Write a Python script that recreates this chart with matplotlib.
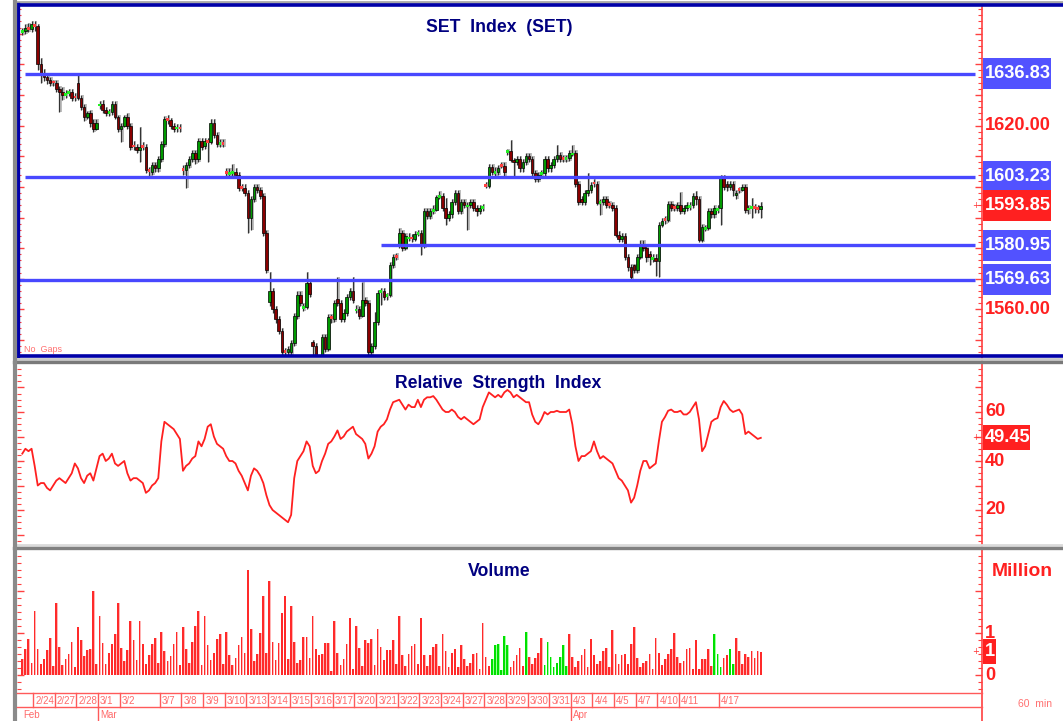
import numpy as np
import matplotlib
matplotlib.use('Agg')
import matplotlib.pyplot as plt
from matplotlib import font_manager
from matplotlib.lines import Line2D
from matplotlib.patches import Rectangle
from matplotlib.transforms import blended_transform_factory
from matplotlib.ticker import MultipleLocator

# ---------------- data (hourly bars) ----------------
opens = [
 1650.5, 1651, 1652, 1651.5, 1653, 1652.5, 1640, 1637, 1636, 1635,
 1634.4, 1634, 1632, 1631, 1630, 1630.5, 1631, 1629.6, 1634, 1629,
 1626, 1622.8, 1624, 1621, 1619, 1626.5, 1627, 1625, 1624, 1624.5,
 1627, 1622.8, 1619, 1620, 1622.8, 1620, 1613.6, 1613, 1612, 1613.5,
 1613, 1605.5, 1605, 1607, 1606, 1609, 1614, 1622.3, 1621.8, 1620,
 1619, 1619.5, 1606, 1605.5, 1607, 1609, 1611, 1609, 1615, 1613.5,
 1615, 1614.5, 1621, 1617, 1614, 1614.5, 1605, 1604, 1604.5, 1605,
 1604, 1600.1, 1599.6, 1598, 1590, 1596, 1600, 1599, 1597, 1585,
 1562.5, 1566, 1560, 1557, 1553, 1546.6, 1546, 1546, 1549, 1558,
 1564.7, 1560.3, 1560.8, 1568.6, 1549.5, 1548, 1543, 1542, 1551, 1547,
 1557.6, 1557, 1563.5, 1562, 1557, 1559, 1564, 1566, 1559.6, 1560,
 1558, 1563, 1562, 1546, 1548, 1556, 1565.5, 1566, 1564.2, 1564.7,
 1574.5, 1577.5, 1581, 1585, 1580, 1583.1, 1583.6, 1583, 1584.6, 1585,
 1581, 1592, 1590.5, 1592, 1592.5, 1596.7, 1597, 1593, 1590, 1591,
 1595, 1598, 1592, 1595, 1593.5, 1594, 1595, 1593, 1592, 1593,
 1600.8, 1600.3, 1606.5, 1604.4, 1605, 1607.2, 1606.8, 1611.2, 1611.7, 1608.8,
 1608, 1609, 1606, 1608, 1610, 1609, 1604.5, 1602.5, 1604, 1604.5,
 1609, 1606, 1607, 1609, 1610.5, 1609.5, 1609, 1609.5, 1610.5, 1611,
 1601, 1596, 1595, 1598, 1599, 1601.5, 1601, 1594.7, 1595, 1596,
 1594.5, 1594, 1593, 1584.3, 1583, 1584, 1577, 1574, 1574.5, 1573,
 1577, 1581.5, 1580, 1578, 1576.3, 1576.8, 1575.7, 1587.6, 1589.7, 1589.2,
 1594.5, 1593.6, 1593, 1594, 1592, 1593, 1593.4, 1594, 1597, 1596,
 1582.7, 1586.1, 1586.6, 1592, 1591, 1592.4, 1593, 1603, 1601, 1600,
 1601, 1597.3, 1599.5, 1599, 1600, 1592.5, 1593, 1593.5, 1593.2, 1592.8]

highs = [
 1652, 1653, 1653.5, 1654, 1654, 1653, 1642, 1638.5, 1637, 1636,
 1635, 1635, 1633, 1632.5, 1631.5, 1632, 1632, 1630.5, 1636.5, 1630,
 1627, 1624.8, 1625, 1622, 1622, 1628, 1628.3, 1626, 1625.5, 1628,
 1628, 1623.5, 1621, 1623.5, 1624, 1621, 1615, 1614, 1619.5, 1614.5,
 1614, 1606.5, 1608, 1608, 1610, 1615, 1623, 1623.5, 1622.5, 1621,
 1620.5, 1620.5, 1607, 1608, 1610, 1612, 1612, 1616, 1616, 1616,
 1616, 1622, 1622, 1618, 1615.5, 1615.5, 1606, 1606, 1607.5, 1606,
 1605, 1601, 1601, 1599, 1597, 1601, 1601, 1600, 1598, 1586,
 1572.3, 1567, 1561, 1558, 1554, 1547.5, 1548, 1550, 1559, 1566,
 1566, 1562, 1572.3, 1569.5, 1550, 1549, 1544, 1552, 1552, 1558.5,
 1558.5, 1563, 1570.6, 1563, 1560, 1565, 1567, 1570.6, 1561.5, 1561,
 1569, 1564, 1563, 1549, 1559.2, 1566.5, 1567, 1567, 1565.5, 1575.5,
 1578, 1578.5, 1586.6, 1586, 1585, 1585, 1584.5, 1585.5, 1586, 1586,
 1593, 1593, 1593, 1594, 1597.5, 1598.5, 1598, 1596.5, 1592, 1596,
 1599, 1599, 1596, 1596, 1595, 1596, 1596, 1594, 1594, 1594.5,
 1601.5, 1607.5, 1607.5, 1606.5, 1607, 1608, 1608, 1612.5, 1615.3, 1609.5,
 1610, 1610, 1609, 1611, 1611, 1610, 1605.5, 1605, 1605.5, 1610,
 1610, 1608, 1610, 1613.7, 1611.5, 1610.5, 1610.5, 1612, 1613.7, 1612,
 1602, 1597, 1599, 1604.5, 1601.5, 1602.5, 1602, 1596, 1597, 1597,
 1595.5, 1595, 1594, 1585.5, 1585, 1585, 1578, 1575, 1575, 1578,
 1582.7, 1582.7, 1581, 1579, 1578, 1578, 1588.5, 1590, 1590.5, 1595.5,
 1595.5, 1594.5, 1595, 1598.3, 1594, 1595, 1595, 1598, 1598.5, 1597,
 1588, 1587.5, 1593, 1593, 1594, 1594, 1604, 1604, 1602, 1602,
 1602, 1599, 1600, 1601, 1601, 1594, 1596.4, 1594.5, 1594, 1595]

lows = [
 1649.5, 1650, 1650.5, 1650.5, 1651, 1638, 1634, 1634.5, 1633.5, 1633,
 1633, 1631, 1624.4, 1628.5, 1629, 1629.5, 1628, 1628, 1628.5, 1625,
 1621.5, 1622, 1619.5, 1618, 1618.5, 1625.5, 1624, 1623, 1623, 1623.5,
 1622, 1618, 1614.6, 1619.5, 1619, 1612, 1612, 1611, 1608.1, 1612,
 1604.5, 1603.5, 1604, 1605, 1605, 1608, 1613, 1620.5, 1619, 1618,
 1618, 1618, 1604, 1599.6, 1606, 1608, 1607.5, 1608, 1612, 1612.5,
 1608.1, 1614, 1616, 1613, 1613, 1613, 1603.5, 1603, 1603.5, 1603,
 1598.5, 1598.5, 1597, 1585, 1586, 1595, 1598, 1596, 1584, 1572,
 1561, 1559, 1555.5, 1552, 1543, 1543, 1542, 1544, 1548, 1557,
 1561, 1559.5, 1560, 1564, 1545, 1541, 1540, 1541, 1546, 1546.5,
 1555.5, 1556, 1561, 1556, 1556, 1558, 1563, 1562, 1559, 1557,
 1557.5, 1561, 1543, 1545, 1547, 1555, 1561.5, 1563, 1563, 1564,
 1573.5, 1576, 1580, 1579, 1579.5, 1582.5, 1582, 1582.5, 1584, 1577.8,
 1580, 1589.5, 1589.5, 1591, 1592, 1596, 1592, 1587.5, 1589, 1590,
 1594, 1591, 1591, 1593, 1585.9, 1593, 1592, 1590.5, 1591, 1592,
 1599.5, 1599.5, 1604, 1603.5, 1604, 1606, 1603.5, 1610.5, 1608, 1603.5,
 1607, 1605, 1605, 1607, 1608, 1603.5, 1601.5, 1601.5, 1603, 1603.5,
 1605, 1605, 1606, 1608, 1608, 1608, 1608, 1608.5, 1610, 1600,
 1594, 1594, 1594, 1597, 1598, 1600, 1594, 1590.8, 1594, 1593,
 1593, 1592, 1583.5, 1582, 1582, 1576, 1572.5, 1569.5, 1572, 1572,
 1576.5, 1579, 1575.5, 1574.5, 1575.5, 1571, 1570.6, 1587, 1588, 1588.5,
 1592, 1592, 1592, 1591, 1591, 1592, 1592.5, 1593, 1594, 1582,
 1582, 1585.5, 1586, 1590, 1590, 1591.5, 1587.6, 1599, 1598.5, 1599,
 1597, 1596, 1598, 1598.5, 1591.5, 1591, 1590, 1591.5, 1591.5, 1590]

closes = [
 1651, 1652, 1651.5, 1653, 1652.5, 1640, 1637, 1636, 1635, 1634,
 1634, 1632, 1631, 1630, 1630.5, 1631, 1629, 1629, 1629, 1626,
 1622.8, 1624, 1621, 1619, 1621, 1627, 1625, 1624, 1624.5, 1627,
 1622.8, 1619, 1620, 1622.8, 1620, 1613, 1613, 1612, 1613, 1613,
 1605.5, 1605, 1607, 1606, 1609, 1614, 1622, 1621.8, 1620, 1619,
 1619.5, 1619, 1605.5, 1607, 1609, 1611, 1609, 1615, 1613, 1615,
 1614.5, 1621, 1617, 1614, 1614.5, 1614, 1604.5, 1604.5, 1605, 1604,
 1599.6, 1599.6, 1598, 1590, 1596, 1600, 1599, 1597, 1585, 1573,
 1566, 1560, 1557, 1553, 1546, 1546, 1547, 1549, 1558, 1564.7,
 1562, 1560.8, 1568.6, 1565, 1548, 1543, 1542, 1551, 1547, 1557.6,
 1557, 1562, 1562, 1557, 1559, 1564, 1566, 1563, 1560, 1558,
 1563, 1562, 1546, 1548, 1556, 1565.5, 1566, 1564, 1564.7, 1574.5,
 1577, 1577, 1585, 1580, 1584, 1583.6, 1583, 1584.6, 1585, 1581,
 1592, 1590.5, 1592, 1592.5, 1596.7, 1597, 1593, 1590, 1591, 1595,
 1598, 1592, 1595, 1594, 1594, 1595, 1593, 1592, 1593, 1593.5,
 1600.3, 1606.5, 1605, 1605, 1606, 1606.8, 1605, 1611.7, 1608.8, 1608,
 1609, 1606, 1608, 1610, 1609, 1604.5, 1602.5, 1604, 1604.5, 1609,
 1606, 1607, 1609, 1610.5, 1609, 1609, 1609.5, 1611, 1611, 1601,
 1595, 1595, 1598, 1599, 1600.5, 1601, 1594.7, 1595, 1596, 1594,
 1594, 1593, 1584.3, 1583, 1584, 1577, 1574, 1570.6, 1573, 1577,
 1581.5, 1580, 1577, 1577, 1576.8, 1575.7, 1587.6, 1589, 1589.2, 1594.5,
 1593, 1593, 1594, 1592, 1593, 1594, 1594, 1597, 1596, 1582.7,
 1586.9, 1586.6, 1592, 1591, 1593, 1593, 1603, 1600, 1600, 1601,
 1599, 1598, 1599, 1600, 1592.5, 1593, 1593.5, 1593, 1592.8, 1593.85]

rsi = [
 43, 45, 44, 45, 38, 30, 31, 31, 29, 28,
 30, 32, 33, 32, 31, 33, 35, 39, 37, 33,
 31, 34, 35, 32, 37, 42, 43, 40, 41, 43,
 39, 38, 39, 40, 35, 32, 33, 33, 32, 31,
 27, 28, 30, 31, 33, 48, 56, 55, 54, 53,
 51, 49, 36, 38, 39, 41, 42, 48, 46, 49,
 54, 55, 50, 47, 46, 45, 42, 40, 40, 39,
 36, 34, 31, 28, 34, 37, 36, 34, 31, 26,
 22, 20, 19, 18, 17, 16, 15, 18, 33, 40,
 42, 44, 48, 46, 38, 35, 36, 40, 43, 47,
 48, 50, 52.5, 49, 50, 52, 53, 54, 51, 50,
 49, 47, 41, 43, 46, 52, 54, 55, 57, 61,
 64, 64.5, 65, 63, 61, 63, 62, 62, 65, 62,
 65, 66, 66, 66.5, 65, 63, 61, 60, 60,
 61, 60, 58, 57, 58, 57, 56, 55, 56, 57,
 62, 65, 68, 67, 66, 67, 66, 68, 69, 68,
 66, 67, 66, 65, 64, 64, 59, 56, 55, 57,
 60, 59, 60, 60, 60.5, 60, 60, 60, 61, 55,
 46, 40, 42, 42, 43, 44, 48, 44, 41,
 42, 41, 40, 39, 36, 33, 32, 30, 28, 23,
 25, 30, 36, 40, 40, 37, 38, 39, 48, 56,
 58, 60.5, 61, 60, 60, 60.5, 59, 59, 60, 62,
 64, 57, 44, 46, 51, 56, 57, 57.5, 62, 64.5,
 63, 61, 60, 60.5, 61, 59, 51, 52, 51, 50,
 49, 49.45]

volume_m = [
 0.38, 0.61, 0.85, 0.29, 1.52, 0.61, 0.26, 0.38, 0.60, 0.87,
 0.21, 1.71, 0.67, 0.24, 0.38, 0.50, 0.79, 0.18, 1.14, 0.83,
 0.45, 0.60, 0.62, 1.99, 0.26, 1.41, 0.76, 0.26, 0.53, 0.73,
 0.97, 1.71, 0.65, 0.33, 0.60, 1.29, 0.83, 0.36, 1.29, 0.73,
 0.27, 0.48, 0.73, 0.88, 0.29, 1.03, 0.56, 0.33, 0.45, 0.73,
 1.03, 0.24, 1.14, 0.62, 0.29, 0.79, 1.17, 1.52, 0.24, 1.41,
 0.71, 0.36, 0.53, 0.85, 0.97, 0.27, 1.03, 0.48, 0.24, 0.41,
 0.71, 0.91, 0.53, 2.50, 1.09, 0.33, 0.50, 1.00, 1.88, 0.53,
 2.23, 0.79, 0.36, 0.76, 1.47, 1.88, 0.38, 1.64, 0.79, 0.29,
 0.36, 0.91, 0.91, 0.41, 1.41, 0.62, 0.48, 0.50, 0.76, 0.76,
 0.09, 1.29, 0.53, 0.24, 0.38, 0.73, 1.35, 0.15, 1.17, 0.65,
 0.21, 0.83, 0.76, 0.85, 0.24, 1.09, 0.67, 0.36, 0.60, 0.60,
 0.83, 0.27,
 1.41, 0.48, 0.21, 0.50, 0.70, 0.73, 0.27, 1.35, 0.48, 0.21,
 0.48, 0.67, 0.73, 0.21, 0.97, 0.56, 0.18, 0.53, 0.62, 0.18,
 0.71, 0.38, 0.21, 0.29, 0.50, 0.53, 0.15, 1.23, 0.44, 0.21,
 0.38, 0.71, 0.73, 0.12, 0.94, 0.71, 0.18, 0.33, 0.47, 0.65,
 0.21, 1.03, 0.44, 0.27, 0.41, 0.53, 0.88, 0.24, 0.79, 0.44,
 0.18, 0.29, 0.44, 0.71, 0.21, 0.97, 0.44, 0.18, 0.33, 0.47,
 0.62, 0.18, 0.85, 0.47, 0.27, 0.33, 0.56, 0.65, 0.18, 1.06,
 0.50, 0.27, 0.47, 0.50, 0.27, 0.73, 1.14, 0.41, 0.18, 0.29,
 0.33, 0.50, 0.15, 0.88, 0.53, 0.24, 0.38, 0.50, 0.62, 1.00,
 0.44, 0.29, 0.33, 0.62, 0.65, 0.15, 0.83, 0.15, 0.38, 0.38,
 0.62, 0.21, 0.97, 0.50, 0.18, 0.41, 0.47, 0.62, 0.27, 0.88,
 0.56, 0.27, 0.50, 0.44, 0.56, 0.41, 0.56, 0.55]

volume_green_bars = [152, 153, 154, 155, 156, 157, 163, 169, 170, 171, 172,
                     173, 174, 175, 176, 224, 225, 226, 229, 230]

levels = [1636.83, 1603.23, 1580.95, 1569.63]
level_start_bar = [1, 1, 116, -2]
price_axis_labels = [1620.00, 1560.00]
rsi_axis_labels = [60, 40, 20]

day_start_bar = [4, 11, 18, 25, 32, 45, 52, 59, 66, 73, 80, 87, 94, 101, 108,
                 115, 122, 129, 136, 143, 150, 157, 164, 171, 178, 185, 192,
                 199, 206, 213, 226]
day_labels = ['2/24', '2/27', '2/28', '3/1', '3/2', '3/7', '3/8', '3/9', '3/10',
              '3/13', '3/14', '3/15', '3/16', '3/17', '3/20', '3/21', '3/22',
              '3/23', '3/24', '3/27', '3/28', '3/29', '3/30', '3/31', '4/3',
              '4/4', '4/5', '4/7', '4/10', '4/11', '4/17']
month_start_bar = [0, 25, 178]
month_labels = ['Feb', 'Mar', 'Apr']

# ---------------- layout ----------------
W, H = 1063, 721
fig = plt.figure(figsize=(W / 100, H / 100), dpi=100)
fig.patch.set_facecolor('white')

names = {f.name for f in font_manager.fontManager.ttflist}
if 'Liberation Sans Narrow' in names:
    NF, K = 'Liberation Sans Narrow', 1.0
else:
    NF, K = 'Liberation Sans', 0.82


def fx(px):
    return px / W


def fy(py):
    return 1 - py / H


X0, DX = 22.3, 3.09


def j_of(px):
    return (px - X0) / DX


XLIM = (j_of(17), j_of(982))
RED = '#FF3030'
TICKRED = '#FF4040'


def add_ax(top, bottom):
    ax = fig.add_axes([fx(17), fy(bottom), fx(982) - fx(17), fy(top) - fy(bottom)])
    ax.set_xlim(*XLIM)
    for s in ax.spines.values():
        s.set_visible(False)
    ax.tick_params(axis='x', which='both', bottom=False, labelbottom=False)
    ax.tick_params(axis='y', which='both', direction='in', left=True, right=True,
                   labelleft=False, labelright=False, colors=TICKRED)
    ax.tick_params(axis='y', which='major', length=5, width=1)
    ax.tick_params(axis='y', which='minor', length=3, width=0.8)
    ax.patch.set_alpha(0)
    return ax


def fline(x1, y1, x2, y2, **kw):
    fig.add_artist(Line2D([fx(x1), fx(x2)], [fy(y1), fy(y2)],
                          transform=fig.transFigure, **kw))


def price_at(y):
    return 1636.83 - (y - 74) / 3.065


def rsi_at(y):
    return 60 - (y - 412) / 2.45


def vol_at(y):
    return (675 - y) / 42.0


axp = add_ax(7, 355)
axp.set_ylim(price_at(355), price_at(7))
axp.yaxis.set_major_locator(MultipleLocator(10))
axp.yaxis.set_minor_locator(MultipleLocator(2))

axr = add_ax(364, 543)
axr.set_ylim(rsi_at(543), rsi_at(364))
axr.yaxis.set_major_locator(MultipleLocator(10))
axr.yaxis.set_minor_locator(MultipleLocator(2.5))

axv = add_ax(550, 690)
axv.set_ylim(vol_at(690), vol_at(550))
axv.yaxis.set_major_locator(MultipleLocator(1))
axv.yaxis.set_minor_locator(MultipleLocator(1 / 6))

# ---------------- candles ----------------
o = np.array(opens, float)
h = np.array(highs, float)
l = np.array(lows, float)
c = np.array(closes, float)
x = np.arange(len(c))
up = c >= o
small = np.abs(c - o) < 0.7

axp.vlines(x + 0.5, l, h, color='#B8B8B8', lw=1.3, zorder=2)
axp.vlines(x, l, h, color='#333333', lw=0.9, zorder=3)
body_b = np.where(small, (o + c) / 2 - 0.45, np.minimum(o, c))
body_h = np.where(small, 0.9, np.abs(c - o))
fcs = []
ecs = []
for u, s in zip(up, small):
    if s:
        fcs.append('#22EE22' if u else '#FF4040')
        ecs.append((0, 0, 0, 0))
    else:
        fcs.append('#009A00' if u else '#8A0000')
        ecs.append('black')
axp.bar(x, body_h, bottom=body_b, width=0.85, color=fcs, edgecolor=ecs,
        linewidth=0.5, zorder=4)

for lv, sb in zip(levels, level_start_bar):
    axp.hlines(lv, sb, j_of(975), color='#4848FF', lw=2.4, zorder=5)

# ---------------- RSI ----------------
axr.plot(np.arange(len(rsi)), rsi, color='#FF2020', lw=1.3, zorder=3)

# ---------------- volume ----------------
xv = np.arange(len(volume_m))
vcol = ['#00E000' if i in volume_green_bars else '#FF2A2A' for i in range(len(volume_m))]
vsh = ['#9CFF9C' if i in volume_green_bars else '#FFB4B4' for i in range(len(volume_m))]
axv.bar(xv + 0.3, volume_m, width=0.4, color=vsh, zorder=2)
axv.bar(xv - 0.05, volume_m, width=0.55, color=vcol, zorder=3)

# ---------------- right side labels ----------------
def side_text(ax, val, s, color='white', fc=None, px=985, size=16,
              box=(983, 1051), hpx=31):
    t = blended_transform_factory(fig.transFigure, ax.transData)
    if fc:
        ypix = ax.transData.transform((0, val))[1]
        fig.add_artist(Rectangle((fx(box[0]), (ypix - hpx / 2) / H),
                                 (box[1] - box[0]) / W, hpx / H,
                                 transform=fig.transFigure, fc=fc, ec='none',
                                 zorder=9))
    fig.text(fx(px), val, s, transform=t, ha='left', va='center',
             fontsize=size * K, fontweight='bold', family=NF, color=color,
             zorder=10)


def plus(ax, val):
    t = blended_transform_factory(fig.transFigure, ax.transData)
    fig.text(fx(976), val, '+', transform=t, ha='center', va='center',
             fontsize=6, color=RED, zorder=10)


for v in price_axis_labels:
    side_text(axp, v, '%.2f' % v, color='#FF2020', size=16)
for lv in levels:
    side_text(axp, lv, '%.2f' % lv, fc='#5252FF', size=16)
side_text(axp, closes[-1], '%.2f' % closes[-1], fc='#FF2020', size=16)
plus(axp, closes[-1])

for v in rsi_axis_labels:
    side_text(axr, v, '%d' % v, color='#FF2020', size=16)
side_text(axr, rsi[-1], '%.2f' % rsi[-1], fc='#FF2020', size=16,
          box=(983, 1030), hpx=25)
plus(axr, rsi[-1])

side_text(axv, vol_at(572), 'Million', color='#FF2020', px=992, size=17)
side_text(axv, 1, '1', color='#FF2020', size=16)
side_text(axv, 0, '0', color='#FF2020', size=16)
side_text(axv, volume_m[-1], '%d' % round(volume_m[-1]), fc='#FF2020', size=16,
          box=(983, 996), hpx=25)
plus(axv, volume_m[-1])

# ---------------- titles ----------------
def title(px, py, s):
    fig.text(fx(px), fy(py), s, ha='center', va='center', color='#000080',
             fontsize=15.5 * K, fontweight='bold', family=NF)


title(499, 28, 'SET  Index  (SET)')
title(498, 383, 'Relative  Strength  Index')
title(499, 571, 'Volume')

fig.text(fx(24), fy(350), 'No  Gaps', ha='left', va='center', fontsize=6.5,
         color='#FF7070', family=NF)
fig.text(fx(1018), fy(704), '60  min', ha='left', va='center', fontsize=7.5,
         color='#FF7070', family=NF)

# ---------------- frames ----------------
fline(982, 7, 982, 721, color=TICKRED, lw=1.2, zorder=1)
fline(14, 2, 1063, 2, color='#A8A8A8', lw=2)
fline(16, 4.8, 1063, 4.8, color='#0000A8', lw=2.6)
fline(16, 355.5, 1063, 355.5, color='#0000A8', lw=2.6)
fline(17.5, 4, 17.5, 356, color='#0000A8', lw=2.4)
fline(14, 358.8, 1063, 358.8, color='#C8C8C8', lw=2)
fline(14, 361.5, 1063, 361.5, color='#7A7A7A', lw=2.4)
fline(14, 544.5, 1063, 544.5, color='#DADADA', lw=2)
fline(14, 547.8, 1063, 547.8, color='#808080', lw=2.4)
fline(15, 0, 15, 721, color='#8A8A8A', lw=3)

# ---------------- date strip ----------------
td = blended_transform_factory(axv.transData, fig.transFigure)
LC = '#FF5A5A'
for yy in (693, 707):
    fig.add_artist(Line2D([XLIM[0], XLIM[1]], [fy(yy), fy(yy)], transform=td,
                          color=LC, lw=1))
for b, s in zip(day_start_bar, day_labels):
    xb = b - 0.5
    fig.add_artist(Line2D([xb, xb], [fy(693), fy(707)], transform=td, color=LC, lw=1))
    fig.text(xb + 0.7, fy(700.5), s, transform=td, ha='left', va='center',
             fontsize=7, color='#FF6A6A', family=NF)
for b, s in zip(month_start_bar, month_labels):
    xb = b - 0.5
    if b > 0:
        fig.add_artist(Line2D([xb, xb], [fy(707), fy(721)], transform=td, color=LC, lw=1))
    fig.text(xb + 0.7, fy(714.5), s, transform=td, ha='left', va='center',
             fontsize=7, color='#FF6A6A', family=NF)

fig.savefig('out.png', dpi=100, facecolor='white')
